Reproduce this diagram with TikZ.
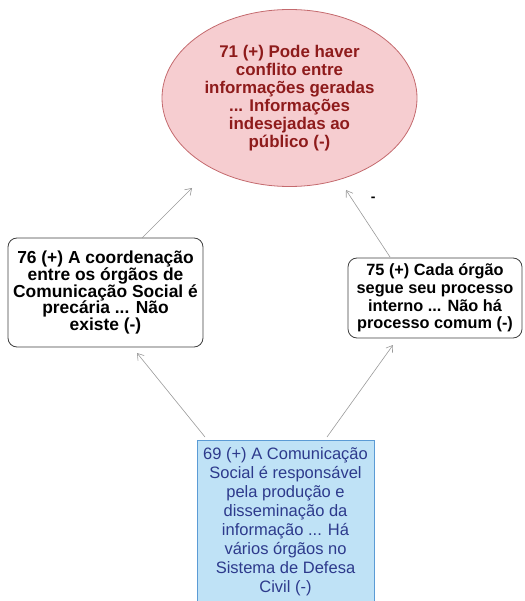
\documentclass[tikz,border=0pt]{standalone}
\usepackage{fontspec}
\setmainfont{Liberation Sans}
\usetikzlibrary{shapes.geometric,arrows.meta,calc}

\definecolor{effectfill}{HTML}{F6CDD0}
\definecolor{effectline}{HTML}{C46A6E}
\definecolor{effecttext}{HTML}{8E1B1B}
\definecolor{causefill}{HTML}{BFE2F6}
\definecolor{causeline}{HTML}{5B9BD5}
\definecolor{causetext}{HTML}{2D3A8C}
\definecolor{linkgray}{HTML}{9A9A9A}

\tikzset{
  effectnode/.style={ellipse, draw=effectline, line width=0.8pt, fill=effectfill,
    text=effecttext, inner sep=0pt, align=center,
    font=\bfseries\fontsize{16.9}{18}\selectfont},
  plainbox/.style={rectangle, rounded corners=9pt, draw=black!75, line width=0.8pt,
    fill=white, inner sep=0pt, align=center,
    font=\bfseries\fontsize{16.3}{17.6}\selectfont},
  causebox/.style={rectangle, draw=causeline, line width=0.8pt, fill=causefill,
    text=causetext, inner sep=0pt, align=center,
    font=\fontsize{16.5}{19}\selectfont},
  link/.style={draw=linkgray, line width=0.6pt,
    -{Straight Barb[length=6pt,width=8pt]}},
}

\begin{document}
\begin{tikzpicture}[x=1pt,y=-1pt]
  \useasboundingbox (0,0) rectangle (524,601);
  \clip (0,0) rectangle (524,601);

  % consequence at the top
  \node[effectnode, minimum width=255, minimum height=177] (n71) at (289.5,98)
    {71 (+) Pode haver\\conflito entre\\informações geradas\\... Informações\\indesejadas ao\\público (-)};

  % intermediate statements
  \node[plainbox, minimum width=195, minimum height=109,
        font=\bfseries\fontsize{17.4}{16.8}\selectfont] (n76) at (105.5,292.5)
    {76 (+) A coordenação\\entre os órgãos de\\Comunicação Social é\\precária ... Não\\existe (-)};
  \node[plainbox, minimum width=174, minimum height=80] (n75) at (435,298)
    {75 (+) Cada órgão\\segue seu processo\\interno ... Não há\\processo comum (-)};

  % root statement, running off the lower edge
  \node[causebox, minimum width=177, minimum height=163, anchor=north] (n69) at (285.5,440)
    {69 (+) A Comunicação\\Social é responsável\\pela produção e\\disseminação da\\informação ... Há\\vários órgãos no\\Sistema de Defesa\\Civil (-)};

  % connectors
  \draw[link] ($(n76)+(36.5,-54.5)$) -- ($(n71)+(-97.5,90)$);
  \draw[link] ($(n75)+(-45,-41)$) --
    node[pos=0.86, anchor=west, xshift=15pt, font=\bfseries\fontsize{14}{14}\selectfont] {-}
    ($(n71)+(56.5,92)$);
  \draw[link] ($(n69.north)+(-80.5,-3)$) -- ($(n76)+(31.5,60.5)$);
  \draw[link] ($(n69.north)+(41.5,-3)$) -- ($(n75)+(-42,47)$);
\end{tikzpicture}
\end{document}
